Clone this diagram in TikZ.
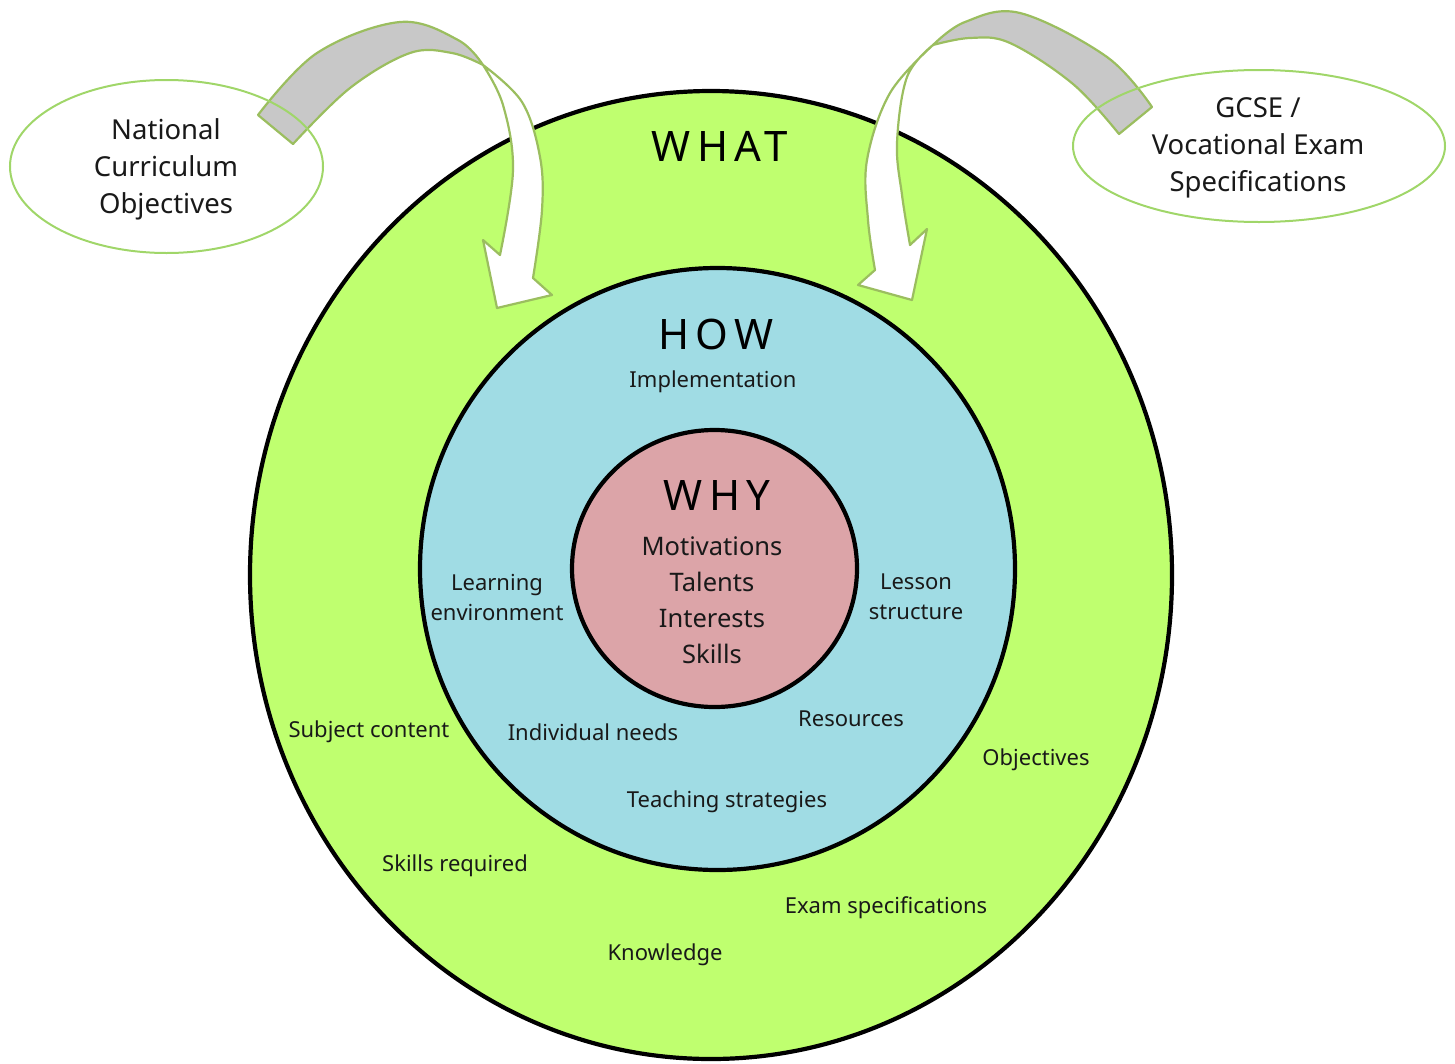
\documentclass[tikz,border=0pt]{standalone}
\usepackage{fontspec}
\setmainfont{Noto Sans}
\newfontfamily\headfont{Noto Sans}[LetterSpace=15]
\definecolor{ringgreen}{RGB}{191,255,111}
\definecolor{ringblue}{RGB}{160,220,228}
\definecolor{ringpink}{RGB}{220,164,168}
\definecolor{arrgray}{RGB}{200,200,200}
\definecolor{arrline}{RGB}{155,190,95}
\definecolor{bubline}{RGB}{160,214,105}
\definecolor{txt}{RGB}{25,25,25}
\begin{document}
\begin{tikzpicture}[x=1pt,y=-1pt,
  body/.style={font=\fontsize{22}{30}\selectfont, text=txt, inner sep=0pt, align=center},
  big/.style={font=\fontsize{27.5}{37}\selectfont, text=txt, inner sep=0pt, align=center},
  whytext/.style={font=\fontsize{25.5}{36}\selectfont, text=txt, inner sep=0pt, align=center},
  head/.style={font=\headfont\fontsize{42}{42}\selectfont, text=black, inner sep=0pt},
  ring/.style={draw=black, line width=4.2pt},
  arrowgray/.style={fill=arrgray, draw=arrline, line width=2.2pt, line join=round},
  arrowwhite/.style={fill=white, draw=arrline, line width=2.2pt, line join=round},
  bubble/.style={draw=bubline, line width=2pt}
]
\useasboundingbox (0,0) rectangle (1455,1063);

% rings
\path[ring, fill=ringgreen] (711,575) ellipse [x radius=461pt, y radius=484pt];
\path[ring, fill=ringblue] (717.5,569) ellipse [x radius=297.5pt, y radius=301pt];
\path[ring, fill=ringpink] (714.5,568.5) ellipse [x radius=142.5pt, y radius=138.5pt];

% left curved arrow
\path[arrowgray] plot[smooth,tension=0.6] coordinates {(258,115) (317,53) (400,22) (458,40) (483,65)}
  -- plot[smooth,tension=0.6] coordinates {(483,65) (452,53) (410,53) (350,88) (293,144)} -- cycle;
\path[arrowwhite] plot[smooth,tension=0.6] coordinates {(483,65) (503,105) (513,170) (500,255)}
  -- (483,240) -- (497,308) -- (552,295)
  -- plot[smooth,tension=0.6] coordinates {(533,278) (542,210) (540,157) (522,102) (483,65)} -- cycle;

% right curved arrow
\path[arrowgray] plot[smooth,tension=0.6] coordinates {(1152,107) (1107,57) (1020,13) (965,22) (933,45)}
  -- plot[smooth,tension=0.6] coordinates {(933,45) (970,38) (1010,43) (1073,84) (1119,134)} -- cycle;
\path[arrowwhite] plot[smooth,tension=0.6] coordinates {(933,45) (890,93) (867,160) (868,220) (875,270)}
  -- (858,285) -- (912,300) -- (927,229)
  -- plot[smooth,tension=0.6] coordinates {(910,245) (902,195) (897,143) (907,77) (933,45)} -- cycle;

% bubbles
\path[bubble] (166.5,166.5) ellipse [x radius=156.5pt, y radius=86.5pt];
\path[bubble] (1259,146) ellipse [x radius=186pt, y radius=76pt];

% texts
\node[big] (nat) at (166,169) {National\\Curriculum\\Objectives};
\node[big] (gcse) at (1258,148) {GCSE /\\Vocational Exam\\Specifications};

\node[head] (what) at (720,146) {WHAT};
\node[head] (how) at (716,334) {HOW};
\node[head] (why) at (717,495) {WHY};

\node[body] (impl) at (713,382) {Implementation};
\node[whytext] (whylist) at (712,600) {Motivations\\Talents\\Interests\\Skills};
\node[body] (learn) at (497,597) {Learning\\environment};
\node[body] (lesson) at (916,597) {Lesson\\structure};
\node[body] (indiv) at (593,732) {Individual needs};
\node[body] (res) at (851,719) {Resources};
\node[body] (teach) at (727,802) {Teaching strategies};

\node[body] (subj) at (369,732) {Subject content};
\node[body] (obj) at (1036,760) {Objectives};
\node[body] (skreq) at (455,866) {Skills required};
\node[body] (exam) at (886,908) {Exam specifications};
\node[body] (know) at (665,955) {Knowledge};
\end{tikzpicture}
\end{document}
